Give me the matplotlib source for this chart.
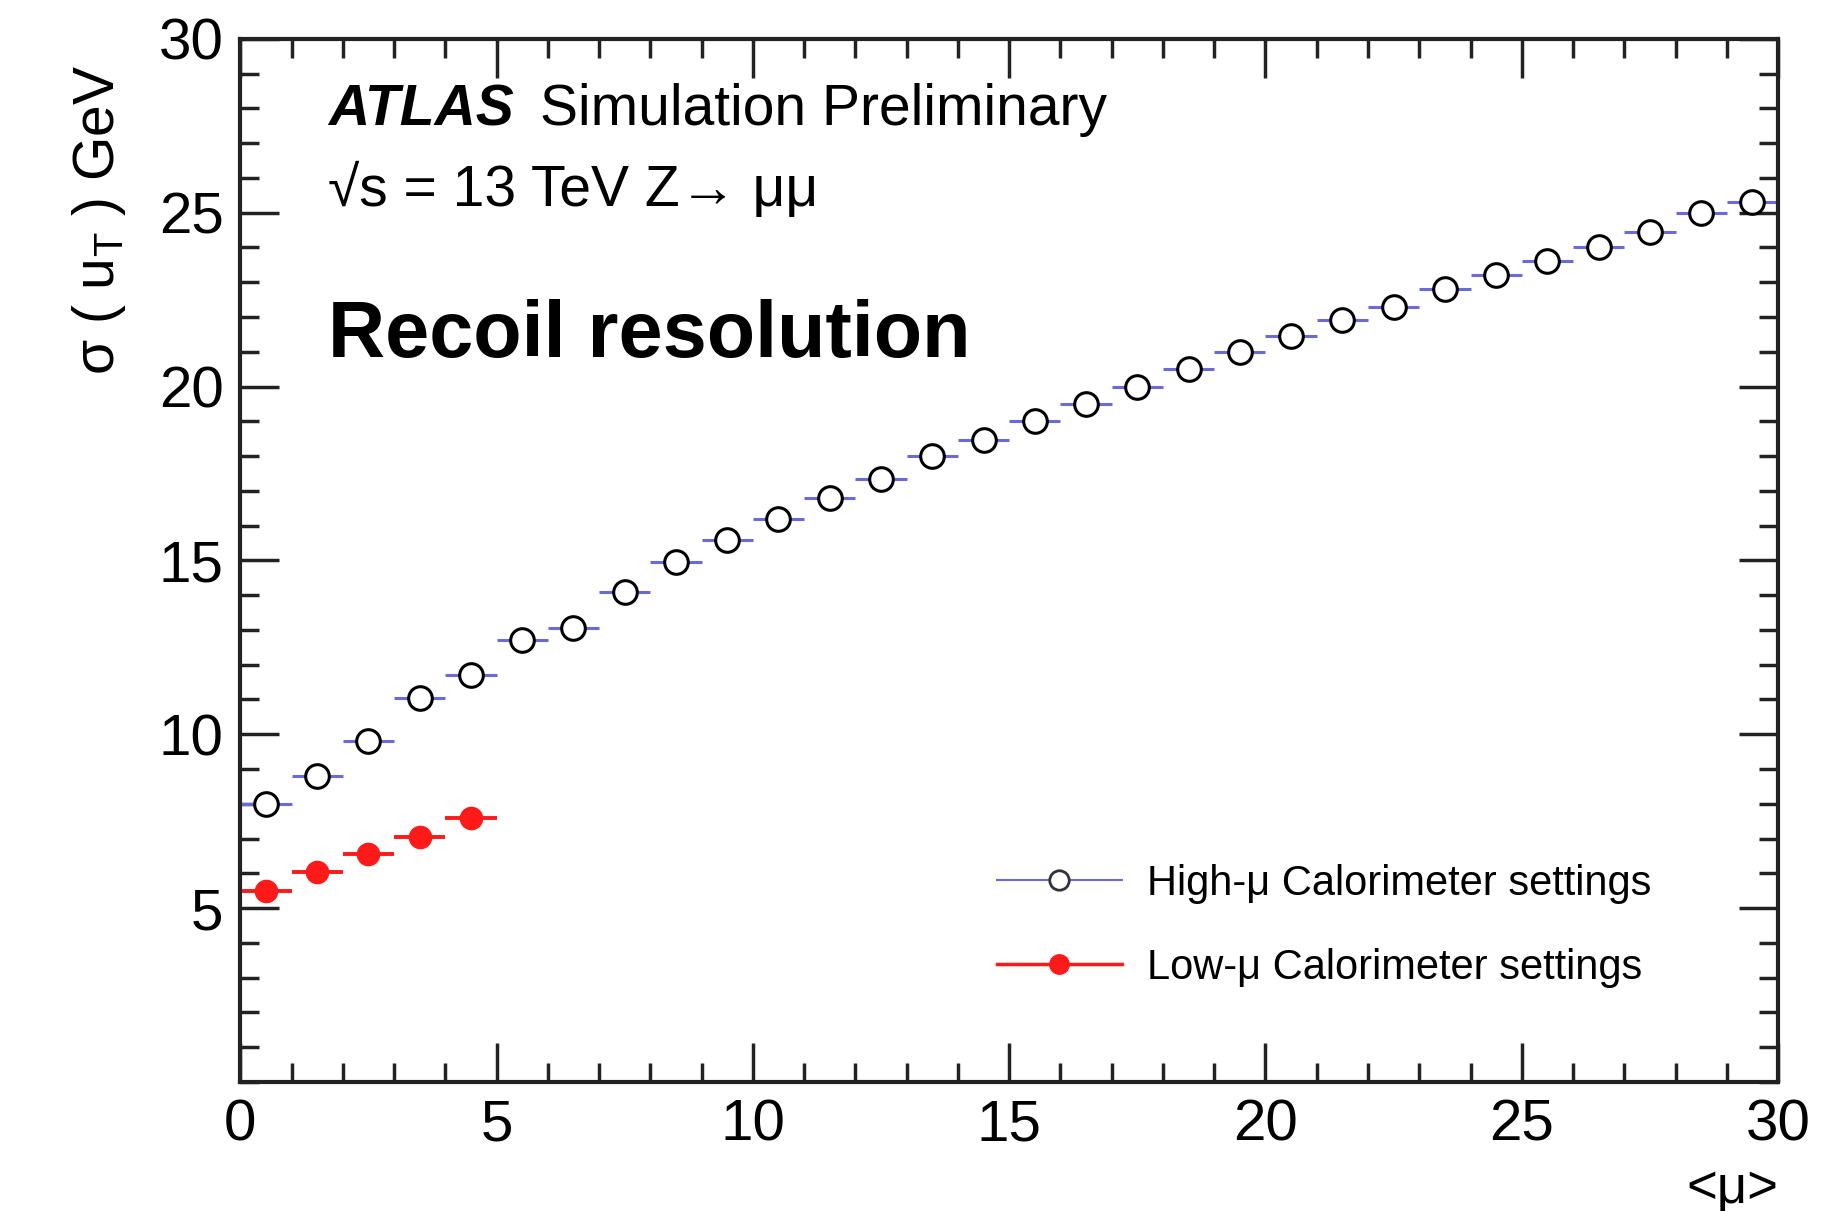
import matplotlib
matplotlib.use("Agg")
import matplotlib.pyplot as plt
from matplotlib.lines import Line2D
from matplotlib.ticker import MultipleLocator

plt.rcParams["font.family"] = ["Liberation Sans", "DejaVu Sans"]
plt.rcParams["mathtext.fontset"] = "custom"
plt.rcParams["mathtext.rm"] = "Liberation Sans"
plt.rcParams["mathtext.it"] = "Liberation Sans:italic"

# <mu> bins, width 1
mu_high = [0.5, 1.5, 2.5, 3.5, 4.5, 5.5, 6.5, 7.5, 8.5, 9.5, 10.5, 11.5, 12.5, 13.5, 14.5,
           15.5, 16.5, 17.5, 18.5, 19.5, 20.5, 21.5, 22.5, 23.5, 24.5, 25.5, 26.5, 27.5, 28.5, 29.5]
sigma_high = [8.0, 8.8, 9.8, 11.05, 11.7, 12.7, 13.05, 14.1, 14.95, 15.6, 16.2, 16.8, 17.35, 18.0, 18.45,
              19.0, 19.5, 20.0, 20.5, 21.0, 21.45, 21.9, 22.3, 22.8, 23.2, 23.6, 24.0, 24.45, 25.0, 25.3]
mu_low = [0.5, 1.5, 2.5, 3.5, 4.5]
sigma_low = [5.5, 6.05, 6.55, 7.05, 7.6]

blue = "#6a6ad8"
red = "#ff1a1a"

fig = plt.figure(figsize=(18.34, 12.11), dpi=100)
ax = fig.add_axes([0.131, 0.1065, 0.8385, 0.8615])

ax.errorbar(mu_high, sigma_high, xerr=0.5, fmt="none", ecolor=blue, elinewidth=2.2, capsize=0, zorder=2)
ax.plot(mu_high, sigma_high, "o", ms=17, mfc="white", mec="black", mew=2.2, zorder=3)
ax.errorbar(mu_low, sigma_low, xerr=0.5, fmt="none", ecolor=red, elinewidth=2.8, capsize=0, zorder=2)
ax.plot(mu_low, sigma_low, "o", ms=16, mfc=red, mec=red, zorder=3)

ax.set_xlim(0, 30)
ax.set_ylim(0, 30)
ax.set_xticks([0, 5, 10, 15, 20, 25, 30])
ax.set_yticks([5, 10, 15, 20, 25, 30])
ax.xaxis.set_minor_locator(MultipleLocator(1))
ax.yaxis.set_minor_locator(MultipleLocator(1))
ax.tick_params(which="both", direction="in", top=True, right=True, width=2.5, colors="#222222",
               labelcolor="black", labelsize=42)
ax.tick_params(which="major", length=28, pad=12)
ax.tick_params(which="minor", length=14)
for s in ax.spines.values():
    s.set_linewidth(3)
    s.set_color("#222222")

ax.set_ylabel(r"σ ( u$_\mathregular{T}$ ) GeV", fontsize=41, loc="top")
ax.yaxis.set_label_coords(-0.073, 0.975)
ax.set_xlabel("<μ>", fontsize=38, loc="right", labelpad=8)

ax.text(0.057, 0.917, "ATLAS", transform=ax.transAxes, fontsize=41, fontweight="bold", fontstyle="italic")
ax.text(0.195, 0.917, "Simulation Preliminary", transform=ax.transAxes, fontsize=41)
ax.text(0.057, 0.84, "√s = 13 TeV Z→ μμ", transform=ax.transAxes, fontsize=41)
ax.text(0.057, 0.695, "Recoil resolution", transform=ax.transAxes, fontsize=57, fontweight="bold")

handles = [
    Line2D([], [], color=blue, lw=1.5, marker="o", ms=14, mfc="white", mec="#333333", mew=2),
    Line2D([], [], color=red, lw=2.5, marker="o", ms=14, mfc=red, mec=red),
]
ax.legend(handles, ["High-μ Calorimeter settings", "Low-μ Calorimeter settings"],
          loc="upper left", bbox_to_anchor=(0.492, 0.209), frameon=False, fontsize=30,
          handlelength=3.0, handletextpad=0.6, labelspacing=1.05, borderpad=0, borderaxespad=0)

fig.savefig("out.png", dpi=100)
